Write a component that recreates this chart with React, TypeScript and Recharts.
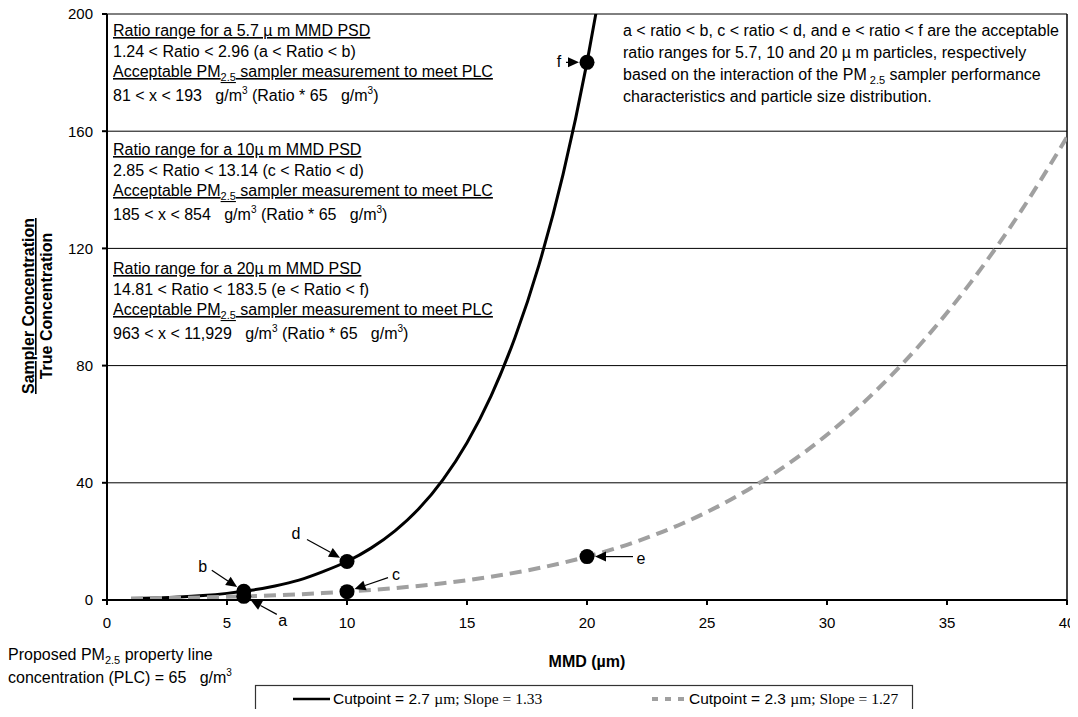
import React from 'react';
import { ComposedChart, Line, XAxis, YAxis, CartesianGrid, ReferenceLine, ReferenceDot } from 'recharts';

const FONT = '"Liberation Sans", Arial, Helvetica, sans-serif';
const SERIF = '"Liberation Serif", "Times New Roman", serif';

const xTicks = [0, 5, 10, 15, 20, 25, 30, 35, 40];
const yTicks = [0, 40, 80, 120, 160, 200];

// Cutpoint 2.7 um, slope 1.33
const mmdSteep = [1, 2, 3, 4, 5, 5.7, 6, 7, 8, 9, 10, 11, 12, 13, 14, 15, 16, 17, 18, 19, 20, 20.5];
const ratioSteep = [0.5, 0.7, 1.0, 1.5, 2.26, 2.96, 3.31, 4.8, 6.8, 9.7, 13.14, 17.7, 23.6, 31.2, 41.1, 53.7, 69.6, 89.6, 114.4, 145.2, 183.5, 206];

// Cutpoint 2.3 um, slope 1.27
const mmdShallow = [1, 2, 3, 4, 5, 5.7, 6, 7, 8, 9, 10, 12, 14, 16, 18, 20, 22, 24, 26, 28, 30, 32, 34, 36, 38, 40];
const ratioShallow = [0.5, 0.6, 0.75, 0.9, 1.08, 1.24, 1.31, 1.6, 1.95, 2.37, 2.85, 4.06, 5.72, 7.95, 10.9, 14.81, 19.8, 26.2, 34.3, 44.3, 56.4, 71.1, 88.3, 108.5, 131.7, 158];

const markerLabels = ['a', 'b', 'c', 'd', 'e', 'f'];
const markerMmd = [5.7, 5.7, 10, 10, 20, 20];
const markerRatio = [1.24, 2.96, 2.85, 13.14, 14.81, 183.5];

const boxTitles = ['Ratio range for a 5.7 µ m MMD PSD', 'Ratio range for a 10µ m MMD PSD', 'Ratio range for a 20µ m MMD PSD'];
const boxRanges = ['1.24 < Ratio < 2.96 (a < Ratio < b)', '2.85 < Ratio < 13.14 (c < Ratio < d)', '14.81 < Ratio < 183.5 (e < Ratio < f)'];
const boxConc = ['81 < x < 193', '185 < x < 854', '963 < x < 11,929'];

const noteLines = [
  'a < ratio < b, c < ratio < d, and e < ratio < f are the acceptable',
  'ratio ranges for 5.7, 10 and 20 µ m particles, respectively',
];

const steepData = mmdSteep.map((x, i) => ({ x, y: ratioSteep[i] }));
const shallowData = mmdShallow.map((x, i) => ({ x, y: ratioShallow[i] }));
const markers = markerLabels.map((label, i) => ({ x: markerMmd[i], y: markerRatio[i], label }));

// callout offsets in px from the marker: label centre, arrow tail
const callout: Record<string, { lx: number; ly: number; sx: number; sy: number }> = {
  a: { lx: 39, ly: 24, sx: 33, sy: 18 },
  b: { lx: -41, ly: -25, sx: -32, sy: -21 },
  c: { lx: 49, ly: -17, sx: 41, sy: -14 },
  d: { lx: -51, ly: -28, sx: -40, sy: -22 },
  e: { lx: 54, ly: 2, sx: 46, sy: 0 },
  f: { lx: -28, ly: -1, sx: -21, sy: 0 },
};

function Marker({ cx, cy, label }: { cx: number; cy: number; label: string }) {
  const c = callout[label];
  const len = Math.hypot(c.sx, c.sy);
  const ux = c.sx / len;
  const uy = c.sy / len;
  const tipX = cx + ux * 8;
  const tipY = cy + uy * 8;
  const head = 11;
  const hw = 5;
  const bx = tipX + ux * head;
  const by = tipY + uy * head;
  const px = -uy;
  const py = ux;
  return (
    <g>
      <line x1={cx + c.sx} y1={cy + c.sy} x2={bx} y2={by} stroke="#000" strokeWidth={1.2} />
      <polygon points={`${tipX},${tipY} ${bx + px * hw},${by + py * hw} ${bx - px * hw},${by - py * hw}`} fill="#000" />
      <circle cx={cx} cy={cy} r={7.5} fill="#000" />
      <text x={cx + c.lx} y={cy + c.ly} textAnchor="middle" dominantBaseline="central" fontSize={16} fontFamily={FONT}>
        {label}
      </text>
    </g>
  );
}

const ul = { textDecoration: 'underline', textDecorationThickness: '2px', whiteSpace: 'pre' } as React.CSSProperties;
const pre = { whiteSpace: 'pre' } as React.CSSProperties;

function Overlay() {
  const boxTop = [36, 155, 274];
  return (
    <svg width={1078} height={717} style={{ position: 'absolute', left: 0, top: 0, pointerEvents: 'none' }} fontFamily={FONT} fontSize={16}>
      {boxTop.map((t, i) => (
        <g key={i}>
          <text x={113} y={t} style={ul}>{boxTitles[i]}</text>
          <text x={113} y={t + 21} style={pre}>{boxRanges[i]}</text>
          <text x={113} y={t + 41} style={ul}>
            Acceptable PM<tspan fontSize={11} dy={4}>2.5</tspan><tspan dy={-4}> sampler measurement to meet PLC</tspan>
          </text>
          <text x={113} y={t + 65} style={pre}>
            {boxConc[i] + '   g/m'}<tspan fontSize={10} dy={-7}>3</tspan><tspan dy={7}>{' (Ratio * 65   g/m'}</tspan><tspan fontSize={10} dy={-7}>3</tspan><tspan dy={7}>)</tspan>
          </text>
        </g>
      ))}

      <g>
        <text x={623} y={36} style={pre}>{noteLines[0]}</text>
        <text x={623} y={58} style={pre}>{noteLines[1]}</text>
        <text x={623} y={80} style={pre}>
          based on the interaction of the PM<tspan fontSize={11} dy={4}> 2.5</tspan><tspan dy={-4}> sampler performance</tspan>
        </text>
        <text x={623} y={102}>characteristics and particle size distribution.</text>
      </g>

      <g transform="translate(44,306) rotate(-90)" fontWeight="bold" fontSize={16}>
        <text x={0} y={-10} textAnchor="middle" style={{ textDecoration: 'underline', textDecorationThickness: '1.5px' }}>Sampler Concentration</text>
        <text x={0} y={8} textAnchor="middle">True Concentration</text>
      </g>

      <text x={587} y={667} textAnchor="middle" fontWeight="bold">MMD (µm)</text>

      <text x={8} y={660} style={pre}>
        Proposed PM<tspan fontSize={11} dy={4}>2.5</tspan><tspan dy={-4}> property line</tspan>
      </text>
      <text x={8} y={683} style={pre}>
        {'concentration (PLC) = 65   g/m'}<tspan fontSize={10} dy={-7}>3</tspan>
      </text>

      <rect x={255.5} y={685.5} width={657} height={50} fill="#fff" stroke="#333" strokeWidth={1.2} />
      <line x1={293} x2={330} y1={699} y2={699} stroke="#000" strokeWidth={2.5} />
      <text x={333} y={704} fontSize={15.5} style={pre}>
        {'Cutpoint = 2.7 '}<tspan fontFamily={SERIF}>µm; Slope = 1.33</tspan>
      </text>
      <line x1={652} x2={686} y1={699} y2={699} stroke="#a0a0a0" strokeWidth={4} strokeDasharray="6 7" />
      <text x={689} y={704} fontSize={15.5} style={pre}>
        {'Cutpoint = 2.3 '}<tspan fontFamily={SERIF}>µm; Slope = 1.27</tspan>
      </text>
    </svg>
  );
}

export default function App() {
  return (
    <div style={{ position: 'relative', width: 1078, height: 717, margin: -8, background: '#fff' }}>
      <div style={{ position: 'absolute', left: 0, top: 0 }}>
        <ComposedChart width={1078} height={717} margin={{ top: 14, right: 11, bottom: 87, left: 47 }}>
          <CartesianGrid vertical={false} stroke="#000" strokeWidth={1} />
          <XAxis
            type="number"
            dataKey="x"
            domain={[0, 40]}
            ticks={xTicks}
            allowDataOverflow
            height={30}
            stroke="#000"
            strokeWidth={2}
            tickSize={5}
            tickMargin={12}
            tick={{ fill: '#000', fontSize: 15, fontFamily: FONT }}
          />
          <YAxis
            type="number"
            domain={[0, 200]}
            ticks={yTicks}
            allowDataOverflow
            width={60}
            stroke="#000"
            strokeWidth={2}
            tickSize={5}
            tickMargin={9}
            tick={{ fill: '#000', fontSize: 15, fontFamily: FONT }}
          />
          <ReferenceLine x={40} stroke="#000" strokeWidth={1.5} />
          <Line data={steepData} dataKey="y" type="monotone" stroke="#000" strokeWidth={3} dot={false} isAnimationActive={false} />
          <Line data={shallowData} dataKey="y" type="monotone" stroke="#a0a0a0" strokeWidth={4} strokeDasharray="12 7" dot={false} isAnimationActive={false} />
          {markers.map((m) => (
            <ReferenceDot
              key={m.label}
              x={m.x}
              y={m.y}
              ifOverflow="visible"
              shape={(p: any) => <Marker cx={p.cx} cy={p.cy} label={m.label} />}
            />
          ))}
        </ComposedChart>
      </div>
      <Overlay />
    </div>
  );
}
